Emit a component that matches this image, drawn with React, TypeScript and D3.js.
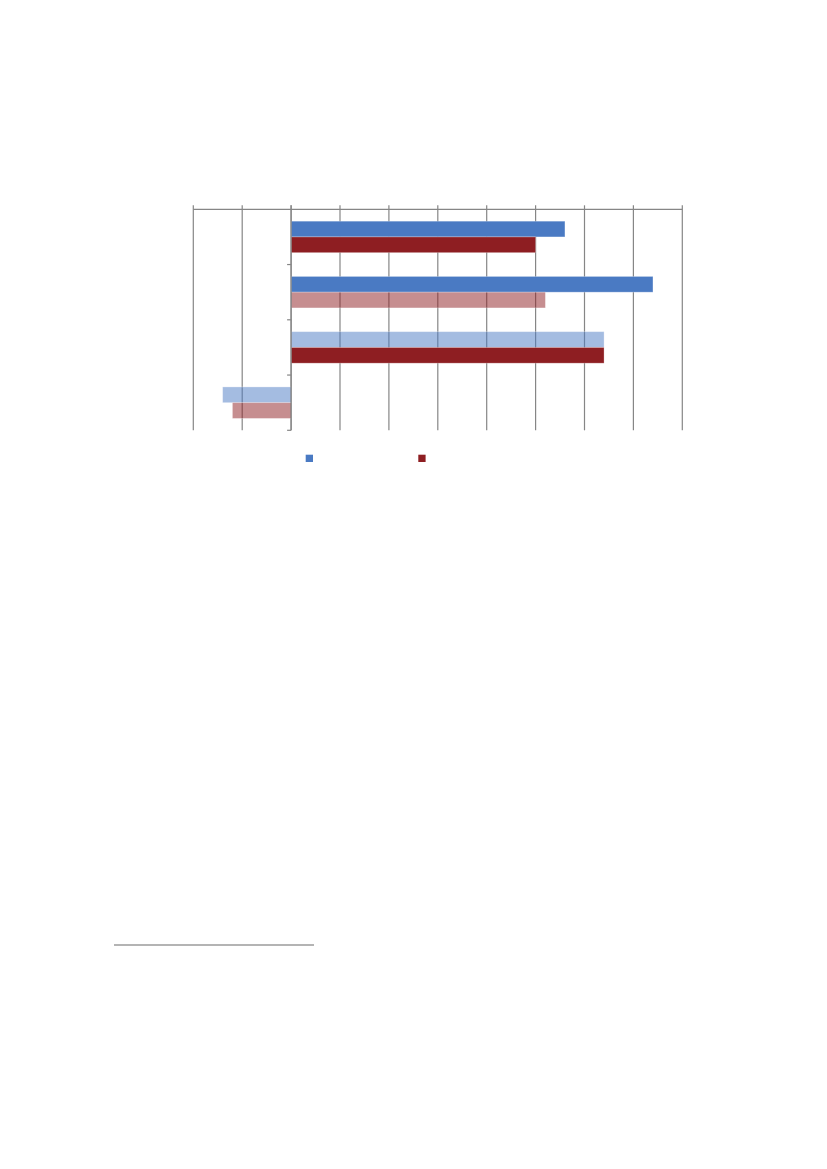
import React from 'react';
import * as d3 from 'd3';

// category order, top to bottom
const categories = ['c1', 'c2', 'c3', 'c4'];
const seriesNames = ['Series A', 'Series B'];
const seriesA = [5.6, 7.4, 6.4, -1.4];
const seriesB = [5.0, 5.2, 6.4, -1.2];
// faded bars (not significant)
const fadedA = [false, false, true, true];
const fadedB = [false, true, false, true];
const xTicks = [-2, -1, 0, 1, 2, 3, 4, 5, 6, 7, 8];

const COLORS = ['#4a7ac3', '#8e1e22'];
const GRID = '#868686';

const App: React.FC = () => {
  const left = 193.3, right = 682.3, top = 209.3, bottom = 430.3;

  const x = d3.scaleLinear().domain([-2, 8]).range([left, right]);
  const y = d3.scaleBand().domain(categories).range([top, bottom]).paddingInner(0.43).paddingOuter(0.215);
  const inner = d3.scaleBand().domain(seriesNames).range([0, y.bandwidth()]);

  const values = [seriesA, seriesB];
  const faded = [fadedA, fadedB];
  const step = y.step();

  return (
    <svg width={827} height={1169} style={{ position: 'absolute', left: 0, top: 0 }}>
      <rect width={827} height={1169} fill="#fff" />

      {/* vertical gridlines + top value-axis ticks */}
      {xTicks.map(t => (
        <line key={t} x1={x(t)} x2={x(t)} y1={top - 4} y2={bottom} stroke={GRID} strokeWidth={1.2} />
      ))}
      <line x1={left} x2={right} y1={top} y2={top} stroke={GRID} strokeWidth={1.2} />

      {/* bars */}
      {categories.map((c, i) =>
        seriesNames.map((s, k) => {
          const v = values[k][i];
          const x0 = x(Math.min(0, v));
          const w = Math.abs(x(v) - x(0));
          return (
            <rect
              key={c + s}
              x={x0}
              y={(y(c) ?? 0) + (inner(s) ?? 0)}
              width={w}
              height={inner.bandwidth()}
              fill={COLORS[k]}
              fillOpacity={faded[k][i] ? 0.5 : 1}
              stroke="#ffffff"
              strokeOpacity={0.35}
              strokeWidth={0.8}
            />
          );
        })
      )}

      {/* category axis at zero */}
      <line x1={x(0)} x2={x(0)} y1={top - 4} y2={bottom} stroke={GRID} strokeWidth={1.2} />
      {categories.map((c, i) => (
        <line key={'t' + c} x1={x(0) - 4} x2={x(0)} y1={top + step * (i + 1)} y2={top + step * (i + 1)} stroke={GRID} strokeWidth={1.2} />
      ))}

      {/* legend */}
      {seriesNames.map((s, k) => (
        <rect key={'lg' + s} x={[305.7, 418.3][k]} y={454.7} width={7.3} height={7.3} fill={COLORS[k]} />
      ))}

      {/* footnote separator */}
      <line x1={114} x2={314} y1={945} y2={945} stroke="#6a6a6a" strokeWidth={1.2} />
    </svg>
  );
};

export default App;
